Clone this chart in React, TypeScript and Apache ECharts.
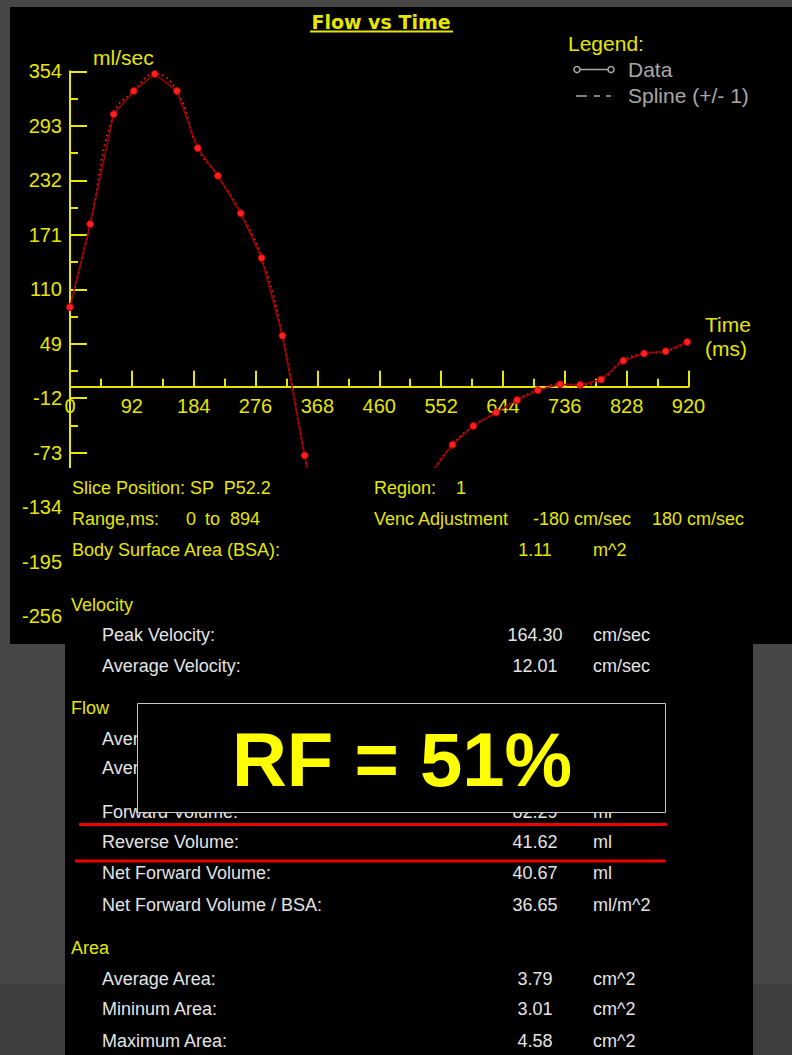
import React, { useEffect, useRef } from "react";
import * as echarts from "echarts";

// ---- chart data ----
const timeMs = [0, 30, 65, 95, 126, 159, 190, 220, 254, 285, 316, 349, 380, 410, 441, 472, 503, 538, 569, 600, 634, 665, 696, 729, 759, 790, 823, 854, 886, 918];
const flowMlPerSec = [90, 183, 306, 332, 351, 332, 268, 237, 195, 145, 58, -76, -190, -215, -200, -170, -130, -95, -64, -43, -28, -14, -3, 3.5, 3, 9, 30, 38, 40.5, 51];
const xMin = 0;
const xMax = 920;
const xInterval = 92;
const yTickValues = [-256, -195, -134, -73, -12, 49, 110, 171, 232, 293, 354];

// ---- info panel text ----
const headerLeft = [
  { text: "Slice Position: SP  P52.2", y: 488 },
  { text: "Range,ms:", y: 519 },
  { text: "Body Surface Area (BSA):", y: 550 },
];
const sectionTitles = [
  { text: "Velocity", y: 605 },
  { text: "Flow", y: 708 },
  { text: "Area", y: 948 },
];
const metricLabels = ["Peak Velocity:", "Average Velocity:", "Average Flow:", "Average Rate:", "Forward Volume:", "Reverse Volume:", "Net Forward Volume:", "Net Forward Volume / BSA:", "Average Area:", "Mininum Area:", "Maximum Area:"];
const metricValues = ["164.30", "12.01", "", "", "82.29", "41.62", "40.67", "36.65", "3.79", "3.01", "4.58"];
const metricUnits = ["cm/sec", "cm/sec", "", "", "ml", "ml", "ml", "ml/m^2", "cm^2", "cm^2", "cm^2"];
const metricRowsY = [635, 666, 739, 768, 812, 842, 873, 905, 979, 1009, 1041];
const rfText = "RF = 51%";

const YELLOW = "#e6e600";
const WHITE = "#e4e4e4";
const GRAY = "#a8a8a8";
const FONT = '"Liberation Sans", Arial, sans-serif';

function txt(x: number, y: number, text: string, fill: string, size: number, align = "left", extra: any = {}) {
  return {
    type: "text",
    z: 11,
    style: {
      text,
      x,
      y,
      fill,
      font: `${extra.weight || "normal"} ${size}px ${extra.family || FONT}`,
      textAlign: align,
      textVerticalAlign: "middle",
      align,
      verticalAlign: "middle",
    },
  };
}

export default function App() {
  const ref = useRef<HTMLDivElement>(null);
  useEffect(() => {
    if (!ref.current) return;
    const chart = echarts.init(ref.current, undefined, { renderer: "svg" });
    const data = timeMs.map((t, i) => [t, flowMlPerSec[i]]);
    const yMinor = yTickValues.slice(0, -1).map((v, i) => (v + yTickValues[i + 1]) / 2);
    const axisLineStyle = { color: YELLOW, width: 2 };

    const gridTop = 71.3;
    const gridBottomPx = 616.2;
    const yMinV = yTickValues[0];
    const yMaxV = yTickValues[yTickValues.length - 1];
    // place the x axis on the zero line of the y scale
    const zeroPx = gridTop + ((yMaxV - 0) / (yMaxV - yMinV)) * (gridBottomPx - gridTop) - 0.8;
    const xAxisOffset = -(gridBottomPx - zeroPx);

    const graphics: any[] = [];
    graphics.push({ type: "rect", z: -5, shape: { x: 0, y: 984, width: 792, height: 71 }, style: { fill: "#3e3e3e" } });
    graphics.push({ type: "rect", z: -4, shape: { x: 10, y: 7, width: 782, height: 637 }, style: { fill: "#000" } });
    graphics.push({ type: "rect", z: -4, shape: { x: 65, y: 643, width: 688, height: 412 }, style: { fill: "#000" } });
    graphics.push({ type: "rect", z: 10, shape: { x: 66, y: 468, width: 726, height: 176 }, style: { fill: "#000" } });

    graphics.push(txt(381, 22, "Flow vs Time", YELLOW, 19, "center", { weight: "bold", family: '"DejaVu Sans", Verdana, sans-serif' }));
    graphics.push({ type: "line", z: 11, shape: { x1: 310, y1: 31.5, x2: 453, y2: 31.5 }, style: { stroke: YELLOW, lineWidth: 2 } });
    graphics.push(txt(93, 57, "ml/sec", YELLOW, 21));
    graphics.push(txt(705, 324, "Time", YELLOW, 21));
    graphics.push(txt(705, 348, "(ms)", YELLOW, 21));
    graphics.push(txt(568, 43, "Legend:", YELLOW, 21));
    graphics.push({ type: "line", z: 11, shape: { x1: 576, y1: 69.5, x2: 612, y2: 69.5 }, style: { stroke: GRAY, lineWidth: 1.5 } });
    graphics.push({ type: "circle", z: 11, shape: { cx: 577, cy: 69.5, r: 3 }, style: { fill: "#000", stroke: GRAY, lineWidth: 1.5 } });
    graphics.push({ type: "circle", z: 11, shape: { cx: 611, cy: 69.5, r: 3 }, style: { fill: "#000", stroke: GRAY, lineWidth: 1.5 } });
    graphics.push(txt(628, 69, "Data", GRAY, 21));
    graphics.push({ type: "line", z: 11, shape: { x1: 576, y1: 96, x2: 611, y2: 96 }, style: { stroke: GRAY, lineWidth: 1.5, lineDash: [11, 7, 6, 6] } });
    graphics.push(txt(628, 95, "Spline (+/- 1)", GRAY, 21));

    headerLeft.forEach((r) => graphics.push(txt(72, r.y, r.text, YELLOW, 18)));
    graphics.push(txt(186, 519, "0", YELLOW, 18));
    graphics.push(txt(205, 519, "to", YELLOW, 18));
    graphics.push(txt(230, 519, "894", YELLOW, 18));
    graphics.push(txt(374, 488, "Region:", YELLOW, 18));
    graphics.push(txt(456, 488, "1", YELLOW, 18));
    graphics.push(txt(374, 519, "Venc Adjustment", YELLOW, 18));
    graphics.push(txt(533, 519, "-180 cm/sec", YELLOW, 18));
    graphics.push(txt(652, 519, "180 cm/sec", YELLOW, 18));
    graphics.push(txt(535, 550, "1.11", YELLOW, 18, "center"));
    graphics.push(txt(593, 550, "m^2", YELLOW, 18));
    sectionTitles.forEach((s) => graphics.push(txt(71, s.y, s.text, YELLOW, 18)));
    metricLabels.forEach((l, i) => {
      graphics.push(txt(102, metricRowsY[i], l, WHITE, 18));
      if (metricValues[i]) graphics.push(txt(535, metricRowsY[i], metricValues[i], WHITE, 18, "center"));
      if (metricUnits[i]) graphics.push(txt(593, metricRowsY[i], metricUnits[i], WHITE, 18));
    });

    graphics.push({ type: "rect", z: 12, shape: { x: 137.5, y: 703.5, width: 528, height: 109 }, style: { fill: "#000", stroke: "#c8c8c8", lineWidth: 1 } });
    const rf = txt(402, 759, rfText, "#ffff00", 76, "center", { weight: "bold" });
    rf.z = 13;
    graphics.push(rf);
    graphics.push({ type: "line", z: 12, shape: { x1: 79, y1: 824.5, x2: 667, y2: 824.5 }, style: { stroke: "#ee0000", lineWidth: 3 } });
    graphics.push({ type: "line", z: 12, shape: { x1: 75, y1: 861, x2: 665, y2: 861 }, style: { stroke: "#ee0000", lineWidth: 3 } });

    chart.setOption({
      animation: false,
      backgroundColor: "#464646",
      grid: { left: 70, top: gridTop, right: 103.5, bottom: 1055 - gridBottomPx, containLabel: false },
      xAxis: {
        type: "value",
        min: xMin,
        max: xMax,
        interval: xInterval,
        position: "bottom",
        offset: xAxisOffset,
        axisLine: { show: true, onZero: false, lineStyle: axisLineStyle },
        axisTick: { show: true, inside: true, length: 16, lineStyle: axisLineStyle },
        minorTick: { show: true, splitNumber: 2, length: 8, lineStyle: axisLineStyle },
        axisLabel: { color: YELLOW, fontSize: 20, fontFamily: FONT, margin: 9, showMinLabel: true, showMaxLabel: true },
        splitLine: { show: false },
        minorSplitLine: { show: false },
      },
      yAxis: [
        {
          type: "value",
          min: yMinV,
          max: yMaxV,
          position: "left",
          axisLine: { show: true, onZero: false, lineStyle: axisLineStyle },
          axisTick: { show: true, inside: true, length: 17, customValues: yTickValues, lineStyle: axisLineStyle },
          axisLabel: { color: YELLOW, fontSize: 20, fontFamily: FONT, margin: 8, customValues: yTickValues },
          splitLine: { show: false },
        },
        {
          type: "value",
          min: yMinV,
          max: yMaxV,
          position: "left",
          offset: 0,
          axisLine: { show: false, onZero: false },
          axisTick: { show: true, inside: true, length: 8, customValues: yMinor, lineStyle: axisLineStyle },
          axisLabel: { show: false },
          splitLine: { show: false },
        },
      ],
      series: [
        {
          name: "Spline (+/- 1)",
          type: "line",
          data,
          smooth: true,
          showSymbol: false,
          symbol: "none",
          z: 3,
          lineStyle: { color: "#ff1a1a", width: 2, type: [1.5, 3.5] },
        },
        {
          name: "Data",
          type: "line",
          data,
          symbol: "circle",
          symbolSize: 7,
          z: 4,
          itemStyle: { color: "#ff2020", borderColor: "#b00000", borderWidth: 1 },
          lineStyle: { color: "#a00000", width: 1.5 },
        },
      ],
      graphic: { elements: graphics },
    });
    return () => chart.dispose();
  }, []);
  return <div ref={ref} style={{ position: "absolute", left: 0, top: 0, width: 792, height: 1055 }} />;
}
